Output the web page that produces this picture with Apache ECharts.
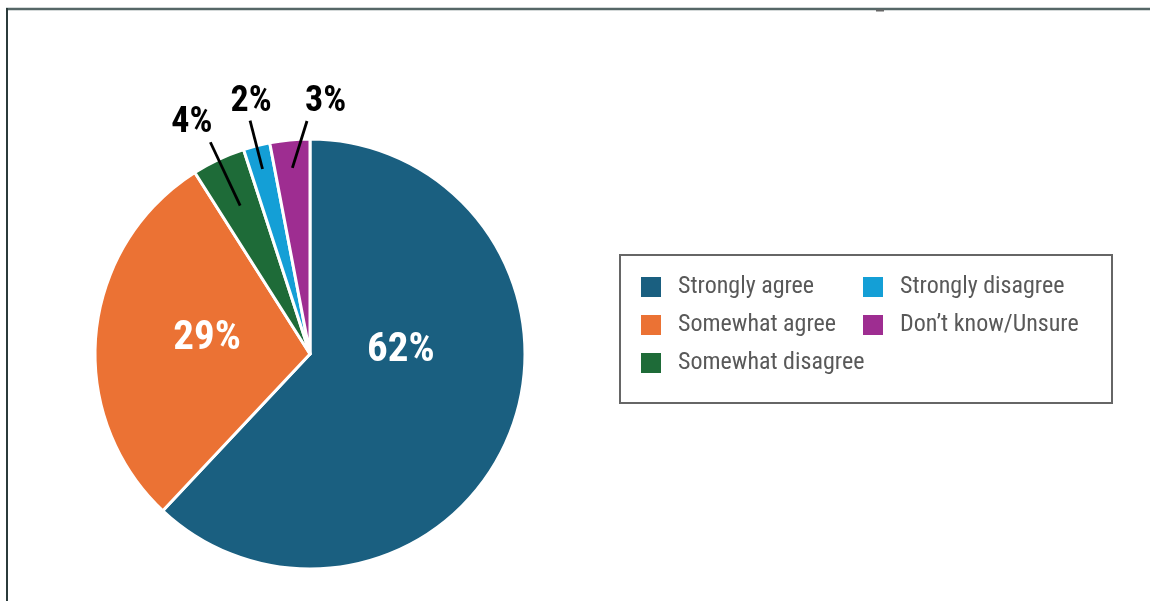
<!DOCTYPE html>
<html><head><meta charset="utf-8">
<script src="https://cdn.jsdelivr.net/npm/echarts@6/dist/echarts.min.js"></script>
<style>html,body{margin:0;padding:0;background:#fff}#c{width:1150px;height:601px}</style>
</head><body><div id="c"></div>
<script>
const categories = ['Strongly agree','Somewhat agree','Somewhat disagree','Strongly disagree','Don\u2019t know/Unsure'];
const values = [62, 29, 4, 2, 3];
const colors = ['#1a5f80','#eb7234','#1e6b38','#149fd6','#9e2d91'];
const legendCol1 = categories.slice(0, 3);
const legendCol2 = categories.slice(3);

const narrow = "'Liberation Sans Narrow', 'Roboto Condensed', Roboto, sans-serif";
const legendText = { fontFamily: "'Roboto Condensed', Roboto, sans-serif", fontSize: 24, color: '#595959', lineHeight: 20, padding: [0,0,0,12] };

const mainData = values.map((v, i) => ({
  name: categories[i],
  value: v,
  label: i < 2
    ? { show: true, position: 'inside', color: '#fff', fontSize: 41, offset: i === 0 ? [-12, -44] : [7, -5] }
    : { show: false }
}));

const calloutData = values.map((v, i) => ({
  name: categories[i],
  value: v,
  label: { show: i >= 2, position: 'outside', color: '#000', fontSize: 36 },
  labelLine: { show: i >= 2 }
}));

// callout leader tweaks: inset into slice, extension beyond edge, horizontal shift of end
const leaderInset = { 2: 51, 3: 24, 4: 28 };
const leaderOut = { 2: 19, 3: 26, 4: 19 };
const leaderShift = { 2: 0, 3: 0, 4: 19 };

const chart = echarts.init(document.getElementById('c'));
chart.setOption({
  animation: false,
  color: colors,
  legend: [
    { data: legendCol1, orient: 'vertical', left: 641, top: 275, padding: 0, itemWidth: 20, itemHeight: 20, itemGap: 14, icon: 'rect', itemStyle: { borderWidth: 0 }, textStyle: legendText, selectedMode: false },
    { data: legendCol2, orient: 'vertical', left: 863, top: 275, padding: 0, itemWidth: 20, itemHeight: 20, itemGap: 14, icon: 'rect', itemStyle: { borderWidth: 0 }, textStyle: legendText, selectedMode: false }
  ],
  graphic: [
    { type: 'line', shape: { x1: 6, y1: 9, x2: 1150, y2: 9 }, style: { stroke: '#566767', lineWidth: 2.5 }, z: 0 },
    { type: 'line', shape: { x1: 7, y1: 8, x2: 7, y2: 601 }, style: { stroke: '#2b3b3b', lineWidth: 2 }, z: 0 },
    { type: 'rect', shape: { x: 876, y: 9.5, width: 8, height: 2 }, style: { fill: '#666' }, z: 0 },
    { type: 'rect', shape: { x: 620, y: 255, width: 492, height: 148 }, style: { fill: '#fff', stroke: '#666666', lineWidth: 2 }, z: 0 }
  ],
  series: [{
    type: 'pie',
    z: 2,
    center: [310, 354],
    radius: 215,
    startAngle: 90,
    clockwise: true,
    avoidLabelOverlap: false,
    emphasis: { disabled: true },
    itemStyle: { borderColor: '#fff', borderWidth: 3 },
    label: { formatter: '{c}%', fontFamily: narrow, fontWeight: 'bold' },
    labelLine: { show: false },
    data: mainData
  }, {
    type: 'pie',
    z: 5,
    silent: true,
    center: [310, 354],
    radius: 215,
    startAngle: 90,
    clockwise: true,
    avoidLabelOverlap: false,
    emphasis: { disabled: true },
    itemStyle: { color: 'rgba(0,0,0,0)', borderWidth: 0 },
    label: { formatter: '{c}%', fontFamily: narrow, fontWeight: 'bold' },
    labelLine: { length: 22, length2: 0, lineStyle: { color: '#000', width: 2.8 } },
    labelLayout: function (p) {
      const i = p.dataIndex;
      if (i < 2 || !p.labelLinePoints) return {};
      const pts = p.labelLinePoints;
      const p0 = pts[0], p1 = pts[1];
      const dx = p1[0] - p0[0], dy = p1[1] - p0[1];
      const len = Math.hypot(dx, dy) || 1;
      const ux = dx / len, uy = dy / len;
      const start = [p0[0] - ux * leaderInset[i], p0[1] - uy * leaderInset[i]];
      const end = [p0[0] + ux * leaderOut[i] + leaderShift[i], p0[1] + uy * leaderOut[i]];
      const align = i === 2 ? 'right' : (i === 3 ? 'center' : 'left');
      const lx = i === 2 ? end[0] + 2 : (i === 4 ? end[0] - 2 : end[0] + 1);
      return { x: lx, y: end[1] - 1, align: align, verticalAlign: 'bottom', labelLinePoints: [start, end, end] };
    },
    data: calloutData
  }]
});
</script>
</body></html>
